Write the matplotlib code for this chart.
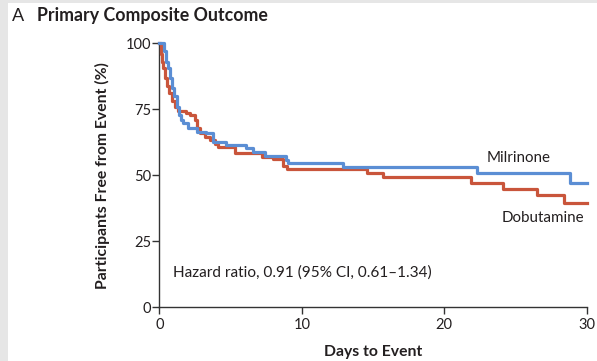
import matplotlib
matplotlib.use("Agg")
import matplotlib.pyplot as plt
from matplotlib.patches import Rectangle

plt.rcParams['font.family'] = ['Lato', 'DejaVu Sans']

panel = "A"
title = "Primary Composite Outcome"
xlabel = "Days to Event"
ylabel = "Participants Free from Event (%)"
hr_text = "Hazard ratio, 0.91 (95% CI, 0.61\u20131.34)"
xticks = [0, 10, 20, 30]
yticks = [0, 25, 50, 75, 100]

mil_t = [0, 0.3, 0.5, 0.63, 0.75, 0.87, 1.0, 1.22, 1.4, 1.55, 1.68, 2.04, 2.62,
         3.3, 3.8, 4.7, 6.1, 6.6, 7.4, 8.9, 9.05, 12.9, 22.3, 28.8, 30]
mil_s = [100, 97, 93, 90.5, 87, 83, 80, 76, 73, 71, 69.7, 67.8, 66.5,
         66, 62.7, 61.5, 60.2, 58.9, 57.2, 55.8, 54.8, 53.3, 51, 47, 47]

dob_t = [0, 0.1, 0.2, 0.28, 0.4, 0.52, 0.7, 0.87, 1.1, 1.3, 1.9, 2.17, 2.5,
         2.62, 2.86, 3.2, 3.57, 3.9, 4.1, 5.3, 7.2, 8.0, 8.7, 8.94, 14.55,
         15.7, 21.9, 24.1, 26.5, 28.4, 30]
dob_s = [100, 96, 93, 90.5, 87, 84, 81, 78, 76, 74.5, 73.5, 72.8, 71,
         67.8, 66, 64.6, 63.4, 62.0, 60.6, 58.6, 57, 56, 53.5, 52.3, 50.7,
         49.5, 47.2, 45, 42.5, 39.6, 39.6]

BLUE = "#5b8ed4"
RED = "#c9553b"
TXT = "#231f20"

fig = plt.figure(figsize=(5.97, 3.61), dpi=100)
fig.patch.set_facecolor("white")
fig.patches.append(Rectangle((0, 0), 8/597, 1, transform=fig.transFigure,
                             facecolor="#e6e6e6", edgecolor="none", zorder=0))
fig.patches.append(Rectangle((0, 1 - 3/361), 1, 3/361, transform=fig.transFigure,
                             facecolor="#e6e6e6", edgecolor="none", zorder=0))

ax = fig.add_axes([159.3/597, 1 - 307.3/361, (586.7-159.3)/597, (307.3-43.3)/361])
ax.set_xlim(0, 30)
ax.set_ylim(0, 100)

ax.step(dob_t, dob_s, where='post', color=RED, lw=2.3, clip_on=False, zorder=3)
ax.step(mil_t, mil_s, where='post', color=BLUE, lw=2.3, clip_on=False, zorder=4)

for s in ['top', 'right']:
    ax.spines[s].set_visible(False)
for s in ['left', 'bottom']:
    ax.spines[s].set_color("#333333")
    ax.spines[s].set_linewidth(1.0)

ax.set_xticks(xticks)
ax.set_yticks(yticks)
ax.tick_params(direction='out', length=5, width=1.0, color="#333333",
               labelsize=10.5, labelcolor=TXT)
ax.tick_params(axis='x', pad=3)
ax.tick_params(axis='y', pad=1)

ax.set_xlabel(xlabel, fontsize=11.3, fontweight='bold', color=TXT, labelpad=9)
ax.set_ylabel(ylabel, fontsize=11.3, fontweight='bold', color=TXT, labelpad=11)

ax.text(22.95, 56.5, "Milrinone", fontsize=10.9, color=TXT, va='center', ha='left')
ax.text(24.05, 33.8, "Dobutamine", fontsize=10.9, color=TXT, va='center', ha='left')
ax.text(0.97, 13, hr_text, fontsize=11.1, color=TXT, va='center', ha='left')

fig.text(12/597, 1 - 16/361, panel, fontsize=13, color=TXT, va='center', ha='left')
fig.text(37/597, 1 - 16/361, title, fontsize=12.8, fontweight='bold',
         color=TXT, va='center', ha='left')

fig.savefig("out.png", dpi=100)
